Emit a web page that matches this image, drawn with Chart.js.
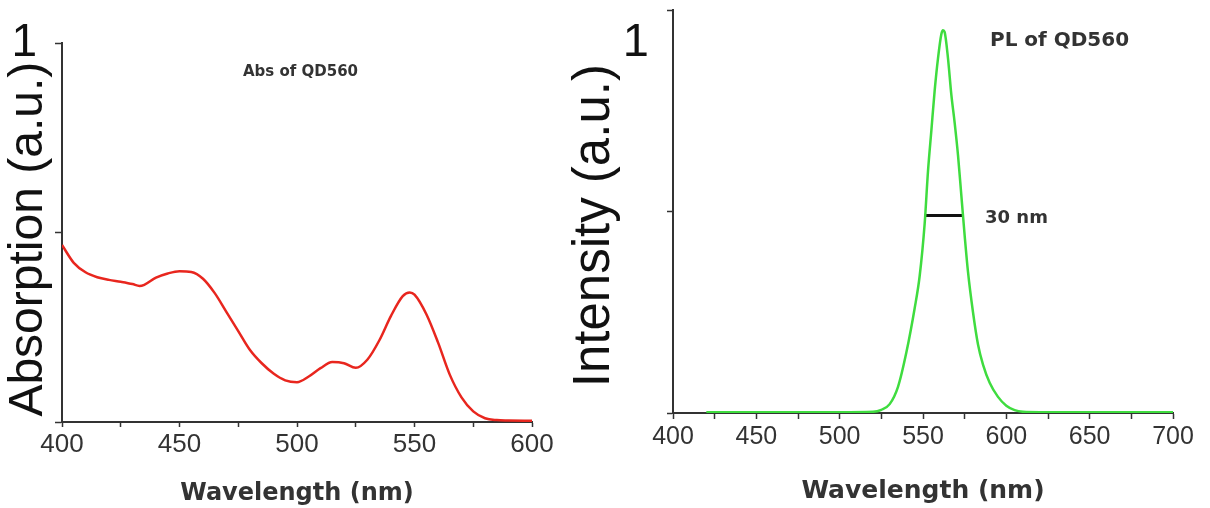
<!DOCTYPE html>
<html>
<head>
<meta charset="utf-8">
<script src="https://cdn.jsdelivr.net/npm/chart.js@4.4.1/dist/chart.umd.min.js"></script>
<style>
  html, body { margin: 0; padding: 0; background: #ffffff; }
  #wrap { position: relative; width: 1210px; height: 508px; background: #ffffff; overflow: hidden; }
  canvas { position: absolute; top: 0; }
  #absCanvas { left: 0; }
  #plCanvas { left: 560px; }
</style>
</head>
<body>
<div id="wrap">
  <canvas id="absCanvas" width="560" height="508"></canvas>
  <canvas id="plCanvas" width="650" height="508"></canvas>
</div>
<script>
// ---------- Data ----------
const absWavelength = [400, 405, 410, 415, 420, 425, 430, 433, 435, 440, 445, 450, 455, 460, 465, 470, 475, 480, 485, 490, 495, 500, 505, 510, 515, 520, 525, 530, 535, 540, 545, 548, 550, 555, 560, 565, 570, 575, 580, 585, 590, 600];
const absValue      = [0.467, 0.42, 0.395, 0.382, 0.375, 0.37, 0.364, 0.359, 0.362, 0.381, 0.392, 0.398, 0.396, 0.378, 0.34, 0.29, 0.24, 0.19, 0.155, 0.128, 0.11, 0.105, 0.12, 0.142, 0.158, 0.155, 0.143, 0.165, 0.215, 0.28, 0.332, 0.342, 0.336, 0.285, 0.21, 0.125, 0.065, 0.028, 0.01, 0.005, 0.004, 0.003];

const plWavelength = [420, 450, 500, 520, 525, 530, 535, 540, 545, 548, 551, 553, 555, 557, 559, 561, 562, 563, 565, 567, 569, 571, 573, 575, 577, 580, 583, 586, 590, 595, 600, 605, 610, 620, 650, 700];
const plValue      = [0.002, 0.002, 0.002, 0.003, 0.008, 0.022, 0.065, 0.15, 0.26, 0.34, 0.47, 0.6, 0.7, 0.8, 0.88, 0.94, 0.95, 0.945, 0.88, 0.79, 0.72, 0.64, 0.54, 0.44, 0.35, 0.25, 0.17, 0.12, 0.075, 0.04, 0.018, 0.007, 0.003, 0.002, 0.002, 0.002];

const fwhmWavelength = [551, 574];
const fwhmLevel      = [0.49, 0.49];

const absXTickLabels = [400, 450, 500, 550, 600];
const plXTickLabels  = [400, 450, 500, 550, 600, 650, 700];
const yTickLabels    = [1];

const absLabel  = 'Abs of QD560';
const plLabel   = 'PL of QD560';
const fwhmLabel = '30 nm';

function toPoints(xs, ys) { return xs.map((x, i) => ({ x: x, y: ys[i] })); }

// ---------- Shared styling ----------
const axisColor = '#333333';
const textColor = '#333333';

function textPlugin(items) {
  return {
    id: 'annot',
    afterDatasetsDraw(chart) {
      const ctx = chart.ctx;
      const xs = chart.scales.x, ys = chart.scales.y;
      ctx.save();
      items.forEach(it => {
        ctx.font = it.font;
        ctx.fillStyle = textColor;
        ctx.textAlign = 'left';
        ctx.textBaseline = 'middle';
        ctx.fillText(it.text, xs.getPixelForValue(it.x), ys.getPixelForValue(it.y));
      });
      ctx.restore();
    }
  };
}

// ---------- Left: absorption ----------
new Chart(document.getElementById('absCanvas'), {
  type: 'line',
  data: {
    datasets: [{
      data: toPoints(absWavelength, absValue),
      borderColor: '#e8261e',
      borderWidth: 2.5,
      pointRadius: 0,
      tension: 0.4,
      cubicInterpolationMode: 'monotone',
      fill: false
    }]
  },
  options: {
    responsive: false,
    devicePixelRatio: 1,
    animation: false,
    layout: { padding: { left: 0, top: 43, right: 28, bottom: 0 } },
    plugins: { legend: { display: false }, tooltip: { enabled: false } },
    scales: {
      x: {
        type: 'linear', min: 400, max: 600,
        border: { color: axisColor, width: 2 },
        grid: { drawOnChartArea: false, drawTicks: true, tickLength: 5, tickColor: axisColor, tickWidth: 1.5 },
        ticks: {
          stepSize: 25, autoSkip: false, maxRotation: 0, padding: 5,
          font: { family: "'Liberation Sans', Arial, sans-serif", size: 26, lineHeight: 1 },
          color: textColor,
          callback: v => absXTickLabels.includes(v) ? String(v) : ''
        },
        title: {
          display: true, text: 'Wavelength (nm)', color: textColor,
          font: { family: "'DejaVu Sans', sans-serif", size: 24, weight: 'bold', lineHeight: 1 },
          padding: { top: 0, bottom: 2.5 }
        },
        afterFit: s => { s.height = 86; }
      },
      y: {
        min: 0, max: 1,
        border: { color: axisColor, width: 2 },
        grid: { drawOnChartArea: false, drawTicks: true, tickLength: 7, tickColor: axisColor, tickWidth: 1.5 },
        ticks: {
          stepSize: 0.5, padding: 18,
          font: { family: "'Liberation Sans', Arial, sans-serif", size: 46, lineHeight: 1 },
          color: '#111111',
          callback: v => yTickLabels.includes(v) ? String(v) : ''
        },
        title: {
          display: true, text: 'Absorption (a.u.) ', color: '#111111',
          font: { family: "'Liberation Sans', Arial, sans-serif", size: 48, lineHeight: 1 },
          padding: { top: 5, bottom: 0 }
        },
        afterFit: s => { s.width = 62; s.paddingTop = 0; s.paddingBottom = 0; }
      }
    }
  },
  plugins: [textPlugin([
    { text: absLabel, x: 477, y: 0.923, font: "bold 15px 'DejaVu Sans', sans-serif" }
  ])]
});

// ---------- Right: photoluminescence ----------
new Chart(document.getElementById('plCanvas'), {
  type: 'line',
  data: {
    datasets: [{
      data: toPoints(plWavelength, plValue),
      borderColor: '#3fdc3f',
      borderWidth: 2.5,
      pointRadius: 0,
      tension: 0.4,
      cubicInterpolationMode: 'monotone',
      fill: false
    }, {
      data: toPoints(fwhmWavelength, fwhmLevel),
      borderColor: '#111111',
      borderWidth: 3,
      pointRadius: 0,
      tension: 0,
      fill: false
    }]
  },
  options: {
    responsive: false,
    devicePixelRatio: 1,
    animation: false,
    layout: { padding: { left: 0, top: 10, right: 37, bottom: 0 } },
    plugins: { legend: { display: false }, tooltip: { enabled: false } },
    scales: {
      x: {
        type: 'linear', min: 400, max: 700,
        border: { color: axisColor, width: 2 },
        grid: { drawOnChartArea: false, drawTicks: true, tickLength: 6, tickColor: axisColor, tickWidth: 1.5 },
        ticks: {
          stepSize: 25, autoSkip: false, maxRotation: 0, padding: 6,
          font: { family: "'Liberation Sans', Arial, sans-serif", size: 25, lineHeight: 1 },
          color: textColor,
          callback: v => plXTickLabels.includes(v) ? String(v) : ''
        },
        title: {
          display: true, text: 'Wavelength (nm)', color: textColor,
          font: { family: "'DejaVu Sans', sans-serif", size: 25, weight: 'bold', lineHeight: 1 },
          padding: { top: 0, bottom: 4 }
        },
        afterFit: s => { s.height = 95; }
      },
      y: {
        min: 0, max: 1,
        border: { color: axisColor, width: 2 },
        grid: { drawOnChartArea: false, drawTicks: true, tickLength: 6, tickColor: axisColor, tickWidth: 1.5 },
        ticks: {
          stepSize: 0.5, padding: 18, labelOffset: 33,
          font: { family: "'Liberation Sans', Arial, sans-serif", size: 47, lineHeight: 1 },
          color: '#111111',
          callback: v => yTickLabels.includes(v) ? String(v) : ''
        },
        title: {
          display: true, text: 'Intensity (a.u.)  ', color: '#111111',
          font: { family: "'Liberation Sans', Arial, sans-serif", size: 51, lineHeight: 1 },
          padding: { top: 9, bottom: 0 }
        },
        afterFit: s => { s.width = 113; s.paddingTop = 0; s.paddingBottom = 0; }
      }
    }
  },
  plugins: [textPlugin([
    { text: plLabel, x: 590.2, y: 0.923, font: "bold 20px 'DejaVu Sans', sans-serif" },
    { text: fwhmLabel, x: 587.2, y: 0.484, font: "bold 18px 'DejaVu Sans', sans-serif" }
  ])]
});
</script>
</body>
</html>
